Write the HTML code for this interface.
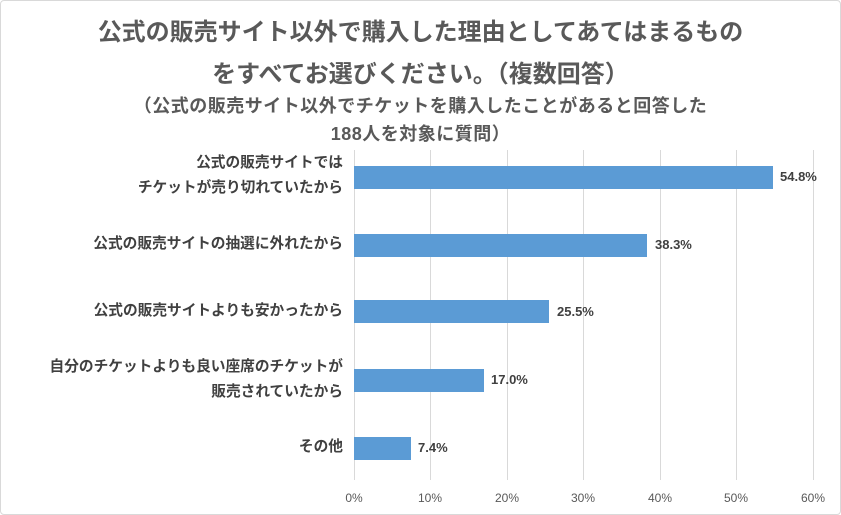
<!DOCTYPE html>
<html><head><meta charset="utf-8"><style>
html,body{margin:0;padding:0;background:#fff;}
body{width:841px;height:515px;position:relative;overflow:hidden;font-family:"Liberation Sans","Noto Sans CJK JP",sans-serif;color:#595959;}
.frame{position:absolute;left:0;top:0;width:839px;height:513px;border:1px solid #d9d9d9;border-radius:4px;}
.t{position:absolute;left:0;width:841px;text-align:center;font-weight:bold;white-space:nowrap;}
.g{position:absolute;top:150px;height:330px;width:1px;background:#d9d9d9;}
.bar{position:absolute;left:354px;height:23px;background:#5b9bd5;}
.v{position:absolute;font-size:13px;font-weight:bold;color:#404040;}
.c{position:absolute;right:498px;text-align:right;font-size:14.7px;font-weight:bold;line-height:25px;color:#404040;white-space:nowrap;}
.x{position:absolute;top:491px;font-size:12px;width:40px;text-align:center;color:#595959;}
</style></head><body>
<div class="frame"></div>
<div class="t" style="top:12px;font-size:24px;">公式の販売サイト以外で購入した理由としてあてはまるもの</div>
<div class="t" style="top:54px;font-size:24px;">をすべてお選びください。（複数回答）</div>
<div class="t" style="top:92px;font-size:18px;letter-spacing:0.5px;">（公式の販売サイト以外でチケットを購入したことがあると回答した</div>
<div class="t" style="top:120px;font-size:18px;letter-spacing:0.5px;">188人を対象に質問）</div>
<div class="g" style="left:354px"></div>
<div class="g" style="left:430px"></div>
<div class="g" style="left:507px"></div>
<div class="g" style="left:583px"></div>
<div class="g" style="left:660px"></div>
<div class="g" style="left:736px"></div>
<div class="g" style="left:813px"></div>
<div class="bar" style="top:166px;width:419px"></div>
<div class="bar" style="top:234px;width:293px"></div>
<div class="bar" style="top:300px;width:195px"></div>
<div class="bar" style="top:369px;width:130px"></div>
<div class="bar" style="top:437px;width:57px"></div>
<div class="v" style="left:780px;top:169px">54.8%</div>
<div class="v" style="left:655px;top:237px">38.3%</div>
<div class="v" style="left:557px;top:304px">25.5%</div>
<div class="v" style="left:491px;top:372px">17.0%</div>
<div class="v" style="left:418px;top:440px">7.4%</div>
<div class="c" style="top:151px">公式の販売サイトでは<br>チケットが売り切れていたから</div>
<div class="c" style="top:232px">公式の販売サイトの抽選に外れたから</div>
<div class="c" style="top:299px">公式の販売サイトよりも安かったから</div>
<div class="c" style="top:355px">自分のチケットよりも良い座席のチケットが<br>販売されていたから</div>
<div class="c" style="top:435px">その他</div>
<div class="x" style="left:334px">0%</div>
<div class="x" style="left:410px">10%</div>
<div class="x" style="left:487px">20%</div>
<div class="x" style="left:563px">30%</div>
<div class="x" style="left:640px">40%</div>
<div class="x" style="left:716px">50%</div>
<div class="x" style="left:793px">60%</div>
</body></html>
